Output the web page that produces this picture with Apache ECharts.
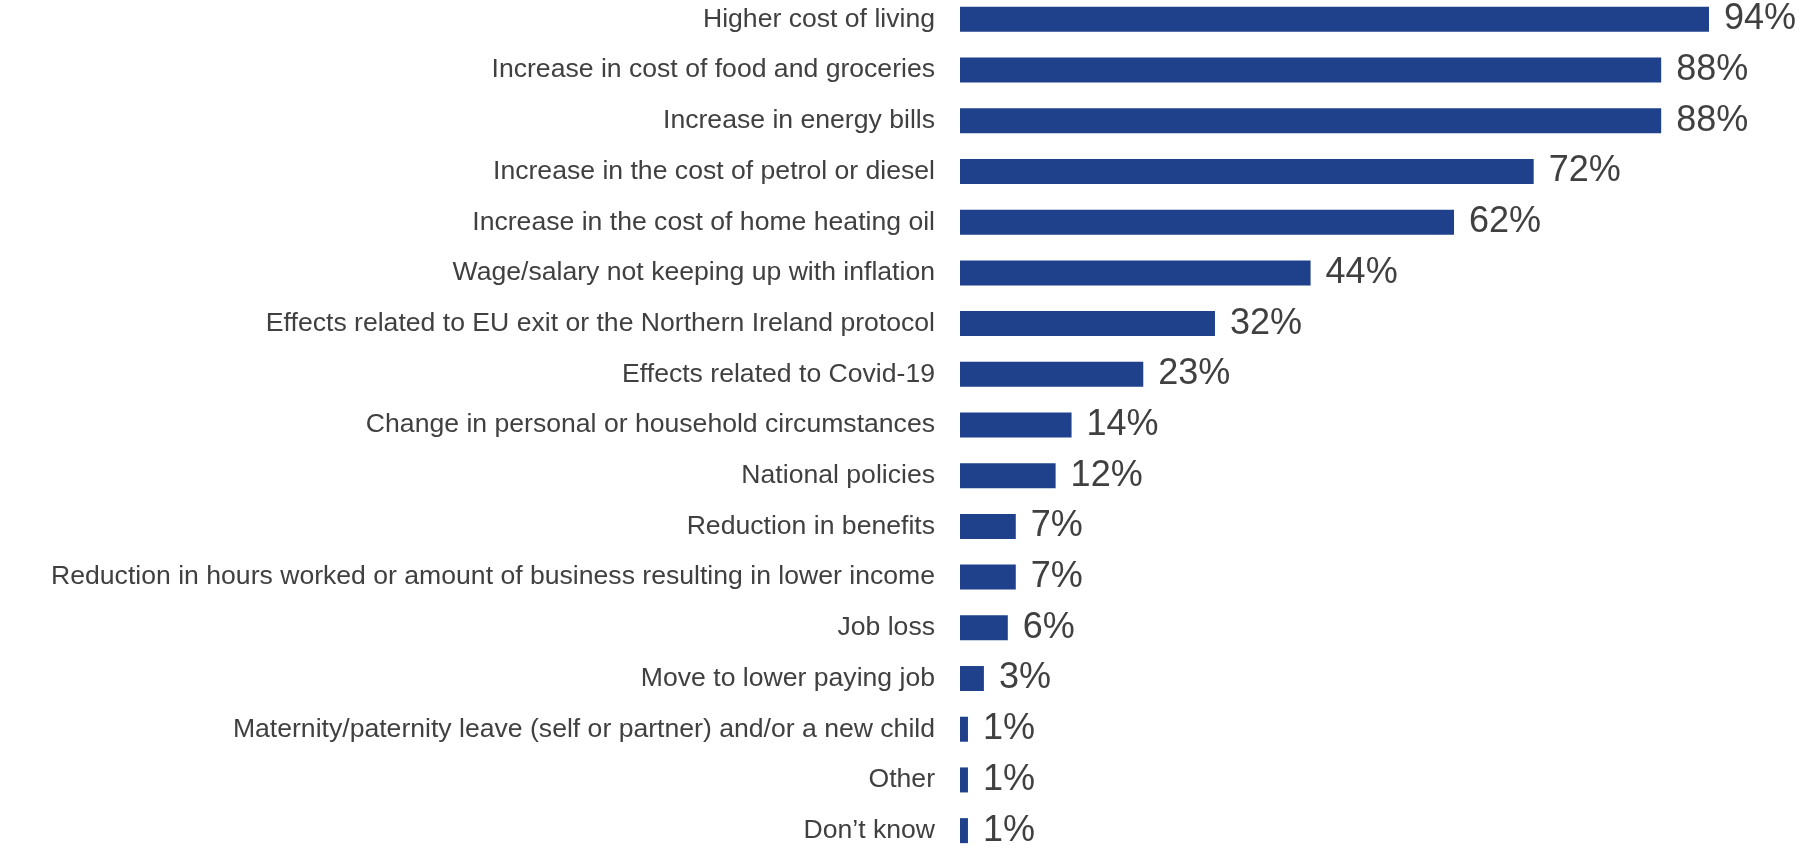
<!DOCTYPE html>
<html>
<head>
<meta charset="utf-8">
<title>Reasons for rising cost of living</title>
<script src="https://cdn.jsdelivr.net/npm/echarts@6/dist/echarts.min.js"></script>
<style>
  html, body { margin: 0; padding: 0; background: #ffffff; }
  #chart { width: 1805px; height: 851px; }
</style>
</head>
<body>
<div id="chart"></div>
<script>
// Reasons given, top to bottom
const categories = [
  'Higher cost of living',
  'Increase in cost of food and groceries',
  'Increase in energy bills',
  'Increase in the cost of petrol or diesel',
  'Increase in the cost of home heating oil',
  'Wage/salary not keeping up with inflation',
  'Effects related to EU exit or the Northern Ireland protocol',
  'Effects related to Covid-19',
  'Change in personal or household circumstances',
  'National policies',
  'Reduction in benefits',
  'Reduction in hours worked or amount of business resulting in lower income',
  'Job loss',
  'Move to lower paying job',
  'Maternity/paternity leave (self or partner) and/or a new child',
  'Other',
  'Don\u2019t know'
];

// Share of respondents (%)
const percentages = [94, 88, 88, 72, 62, 44, 32, 23, 14, 12, 7, 7, 6, 3, 1, 1, 1];

const fontFamily = 'Arial, "Liberation Sans", Helvetica, sans-serif';
const textColor = '#404040';
const barColor = '#1F418B';

const chart = echarts.init(document.getElementById('chart'), null, { renderer: 'canvas' });

chart.setOption({
  animation: false,
  backgroundColor: '#ffffff',
  grid: {
    left: 960, right: 48.2, top: -6, bottom: -5,
    outerBoundsMode: 'none'
  },
  xAxis: {
    type: 'value',
    min: 0,
    max: 100,
    show: false
  },
  yAxis: {
    type: 'category',
    inverse: true,
    data: categories,
    axisLine: { show: false },
    axisTick: { show: false },
    splitLine: { show: false },
    axisLabel: {
      fontSize: 26.6,
      fontFamily: fontFamily,
      color: textColor,
      margin: 25
    }
  },
  series: [{
    type: 'bar',
    data: percentages,
    barWidth: 25,
    itemStyle: { color: barColor },
    label: {
      show: true,
      position: 'right',
      distance: 15,
      formatter: '{c}%',
      fontSize: 36,
      fontFamily: fontFamily,
      color: textColor
    }
  }]
});
</script>
</body>
</html>
